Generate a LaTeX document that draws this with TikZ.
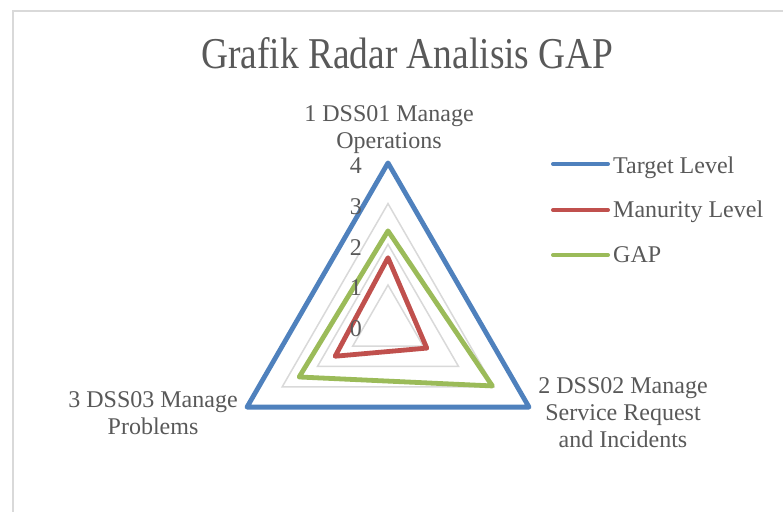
\documentclass[tikz,border=0pt]{standalone}
\usepackage{fontspec}
\setmainfont{Liberation Serif}
\definecolor{txt}{HTML}{595959}
\definecolor{gridc}{HTML}{D9D9D9}
\definecolor{tgt}{HTML}{4F81BD}
\definecolor{mat}{HTML}{C0504D}
\definecolor{gapc}{HTML}{9BBB59}
\begin{document}
\begin{tikzpicture}[x=1pt,y=-1pt,
  lbl/.style={text=txt, inner sep=0pt, font=\fontsize{24}{27}\selectfont, align=center},
  ticklbl/.style={text=txt, inner sep=0pt, font=\fontsize{24}{24}\selectfont, anchor=east},
  legtxt/.style={text=txt, inner sep=0pt, font=\fontsize{24}{27}\selectfont, anchor=base west},
  titletxt/.style={text=txt, inner sep=0pt, font=\fontsize{44}{44}\selectfont, anchor=base},
  gridline/.style={draw=gridc, line width=1.5pt},
  series/.style={line width=4.8pt, line join=round},
  legline/.style={line width=4pt, line cap=round}]
\useasboundingbox (0,0) rectangle (783,511);
\fill[white] (0,0) rectangle (783,511);
% chart border
\draw[gridc, line width=1.5pt] (13,515) -- (13,11) -- (790,11);
% title
\node[titletxt] (title) at (407.5,68) {\scalebox{0.85}[1]{Grafik Radar Analisis GAP}};
\coordinate (C) at (388,325.7);
\begin{scope}[shift={(C)}]
  \foreach \v in {1,2,3}
    \draw[gridline] (270:{\v*40.7}) -- (30:{\v*40.7}) -- (150:{\v*40.7}) -- cycle;
  \draw[series, draw=tgt] (270:162.8) -- (30:162.8) -- (150:162.8) -- cycle;
  \draw[series, draw=mat] (270:{1.67*40.7}) -- (30:{1.1*40.7}) -- (150:{1.5*40.7}) -- cycle;
  \draw[series, draw=gapc] (270:{2.33*40.7}) -- (30:{2.96*40.7}) -- (150:{2.52*40.7}) -- cycle;
\end{scope}
% value axis labels
\foreach \v in {0,1,2,3,4}
  \node[ticklbl] (t\v) at (362,{328.7-\v*40.7}) {\v};
% category labels
\node[lbl] (cat1) at (389,129.5) {1 DSS01 Manage\\Operations};
\node[lbl] (cat2) at (623,412.8) {2 DSS02 Manage\\Service Request\\and Incidents};
\node[lbl] (cat3) at (153,413.3) {3 DSS03 Manage\\Problems};
% legend
\coordinate (l1a) at (553,164); \coordinate (l1b) at (608,164);
\coordinate (l2a) at (553,210); \coordinate (l2b) at (608,210);
\coordinate (l3a) at (553,255); \coordinate (l3b) at (608,255);
\draw[legline, draw=tgt] (l1a) -- (l1b);
\draw[legline, draw=mat] (l2a) -- (l2b);
\draw[legline, draw=gapc] (l3a) -- (l3b);
\node[legtxt] (lg1) at (613,173) {Target Level};
\node[legtxt] (lg2) at (613,217) {Manurity Level};
\node[legtxt] (lg3) at (613,262) {GAP};
\end{tikzpicture}
\end{document}
